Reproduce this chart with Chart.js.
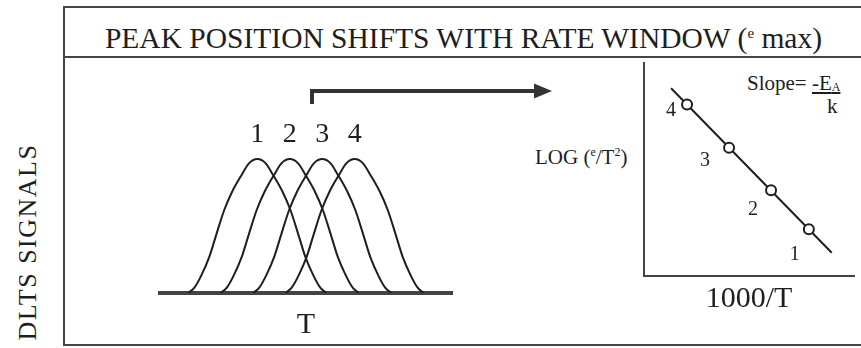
<!DOCTYPE html>
<html>
<head>
<meta charset="utf-8">
<script src="https://cdn.jsdelivr.net/npm/chart.js@4.4.1/dist/chart.umd.min.js"></script>
<style>
  body { margin: 0; width: 861px; height: 348px; overflow: hidden; background: #fff;
         position: relative; font-family: "Liberation Serif", "Times New Roman", serif; color: #1e1e1e; }
  .abs { position: absolute; white-space: nowrap; }
  #frame { left: 63px; top: 6px; width: 801px; height: 340px; border: 2px solid #454545; box-sizing: border-box; }
  #titleLine { left: 63px; top: 56px; width: 801px; height: 2px; background: #454545; }
  #title { left: 65px; top: 8px; width: 797px; height: 48px; line-height: 50px; text-align: center; font-size: 29.5px; }
  #title sup { font-size: 15px; vertical-align: 10px; }
  #ylabel { left: -82px; top: 227px; width: 220px; text-align: center; font-size: 26px; letter-spacing: 1.5px;
            transform: rotate(-90deg); }
  #logLabel { left: 535px; top: 145px; font-size: 21px; }
  #logLabel sup { font-size: 12px; vertical-align: 8px; }
  #slope { left: 747px; top: 71px; font-size: 21px; }
  #slope .num { text-decoration: underline; }
  #slope sub { font-size: 12px; vertical-align: -1px; }
  #slopeK { left: 827px; top: 94px; font-size: 21px; }
  canvas { position: absolute; }
</style>
</head>
<body>
<div id="frame" class="abs"></div>
<div id="titleLine" class="abs"></div>
<div id="title" class="abs">PEAK POSITION SHIFTS WITH RATE WINDOW (<sup>e</sup> max)</div>
<div id="ylabel" class="abs">DLTS SIGNALS</div>
<div id="logLabel" class="abs">LOG (<sup>e</sup>/T<sup>2</sup>)</div>
<div id="slope" class="abs">Slope= <span class="num">-E<sub>A</sub></span></div>
<div id="slopeK" class="abs">k</div>

<canvas id="peaksChart" width="580" height="287" style="left:64px; top:58px;"></canvas>
<canvas id="arrheniusChart" width="341" height="289" style="left:520px; top:56px;"></canvas>

<script>
// DLTS peaks, one per rate window
const peakT = [30, 40, 50, 60];
const peakLabels = ['1', '2', '3', '4'];
// shape of a single peak: offset from its maximum and normalised signal
const shapeOffset = [-21.3, -19.4, -17.3, -14.8, -12.6, -10.2, -7.7, -4.9, -2.5, 0,
                     2.5, 4.9, 7.7, 10.2, 12.6, 14.8, 17.3, 19.4, 21.3];
const shapeHeight = [0, 0.04, 0.13, 0.27, 0.44, 0.62, 0.76, 0.88, 0.97, 1,
                     0.97, 0.88, 0.76, 0.62, 0.44, 0.27, 0.13, 0.04, 0];

// Arrhenius plot points (1000/T, log(e/T^2)) and the fitted line
const invT = [2.41, 2.81, 3.21, 3.57];
const logRate = [3.22, 2.41, 1.61, 0.88];
const pointLabels = ['4', '3', '2', '1'];
const fitInvT = [2.258, 3.788];
const fitLog = [3.525, 0.438];

const ink = '#1e1e1e';
const axisInk = '#444';
const serif = 'Liberation Serif';
Chart.defaults.font.family = serif;
Chart.defaults.color = ink;

// numbers above each peak + the rate-window arrow
const peakDecor = {
  id: 'peakDecor',
  afterDatasetsDraw(chart, args, opts) {
    const {ctx, scales: {x, y}} = chart;
    ctx.save();
    ctx.font = '28px ' + serif;
    ctx.fillStyle = ink;
    ctx.textAlign = 'center';
    ctx.textBaseline = 'middle';
    peakT.forEach((t, i) => {
      ctx.fillText(peakLabels[i], x.getPixelForValue(t), y.getPixelForValue(1) - 24);
    });
    const a = opts.arrow;
    ctx.strokeStyle = '#333';
    ctx.fillStyle = '#333';
    ctx.lineWidth = 4;
    ctx.beginPath();
    ctx.moveTo(a.x, a.y0);
    ctx.lineTo(a.x, a.y);
    ctx.lineTo(a.tip - 16, a.y);
    ctx.stroke();
    ctx.beginPath();
    ctx.moveTo(a.tip, a.y);
    ctx.lineTo(a.tip - 18, a.y - 7.5);
    ctx.lineTo(a.tip - 18, a.y + 7.5);
    ctx.closePath();
    ctx.fill();
    ctx.restore();
  }
};

// numbers next to each Arrhenius point
const pointDecor = {
  id: 'pointDecor',
  afterDatasetsDraw(chart, args, opts) {
    const {ctx, scales: {x, y}} = chart;
    ctx.save();
    ctx.font = '20px ' + serif;
    ctx.fillStyle = ink;
    ctx.textAlign = 'center';
    ctx.textBaseline = 'middle';
    invT.forEach((v, i) => {
      const [dx, dy] = opts.offsets[i];
      ctx.fillText(pointLabels[i], x.getPixelForValue(v) + dx, y.getPixelForValue(logRate[i]) + dy);
    });
    ctx.restore();
  }
};

const hiddenTicks = { display: false };
const noGrid = { display: false, drawTicks: false };

new Chart(document.getElementById('peaksChart'), {
  type: 'line',
  data: {
    datasets: peakT.map(t => ({
      data: shapeOffset.map((d, j) => ({ x: t + d, y: shapeHeight[j] })),
      borderColor: ink,
      borderWidth: 2,
      pointRadius: 0,
      cubicInterpolationMode: 'monotone',
      fill: false
    }))
  },
  options: {
    responsive: false,
    animation: false,
    layout: { padding: { left: 96, right: 192, top: 81, bottom: 2 } },
    plugins: {
      legend: { display: false },
      tooltip: { enabled: false },
      peakDecor: { arrow: { x: 248, y0: 46, y: 33, tip: 488 } }
    },
    scales: {
      x: {
        type: 'linear', min: 0, max: 90,
        ticks: hiddenTicks, grid: noGrid,
        border: { display: true, width: 4, color: axisInk },
        title: { display: true, text: 'T', font: { size: 30 }, padding: { top: 14, bottom: 0 } }
      },
      y: { display: false, min: 0, max: 1.15 }
    }
  },
  plugins: [peakDecor]
});

new Chart(document.getElementById('arrheniusChart'), {
  type: 'line',
  data: {
    datasets: [
      {
        data: invT.map((v, i) => ({ x: v, y: logRate[i] })),
        showLine: false,
        pointRadius: 5,
        pointBorderWidth: 2,
        pointBackgroundColor: '#fff',
        pointBorderColor: ink
      },
      {
        data: fitInvT.map((v, i) => ({ x: v, y: fitLog[i] })),
        borderColor: ink,
        borderWidth: 2,
        pointRadius: 0
      }
    ]
  },
  options: {
    responsive: false,
    animation: false,
    layout: { padding: { left: 124, right: 0, top: 1, bottom: 28 } },
    plugins: {
      legend: { display: false },
      tooltip: { enabled: false },
      pointDecor: { offsets: [[-16, 6], [-24, 13], [-18, 19], [-14, 26]] }
    },
    scales: {
      x: {
        type: 'linear', min: 2, max: 4,
        ticks: hiddenTicks, grid: noGrid,
        border: { display: true, width: 2, color: axisInk },
        title: { display: true, text: '1000/T', font: { size: 30 }, padding: { top: 5, bottom: 0 } }
      },
      y: {
        type: 'linear', min: 0, max: 4,
        ticks: hiddenTicks, grid: noGrid,
        border: { display: true, width: 2, color: axisInk }
      }
    }
  },
  plugins: [pointDecor]
});
</script>
</body>
</html>
